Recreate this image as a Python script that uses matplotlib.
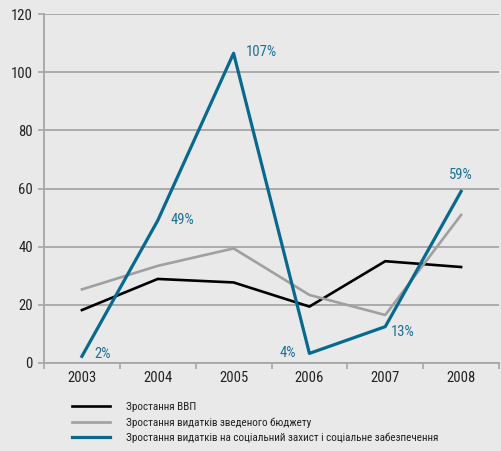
import matplotlib
matplotlib.use("Agg")
from matplotlib import pyplot as plt
import numpy as np

years = ["2003", "2004", "2005", "2006", "2007", "2008"]
gdp_growth = [18.2, 28.9, 27.7, 19.4, 35.0, 33.0]
budget_growth = [25.3, 33.4, 39.4, 23.4, 16.5, 50.9]
social_growth = [2.3, 49.0, 106.5, 3.3, 12.5, 59.0]
social_labels = ["2%", "49%", "107%", "4%", "13%", "59%"]

series_names = ["Зростання ВВП",
                "Зростання видатків зведеного бюджету",
                "Зростання видатків на соціальний захист і соціальне забезпечення"]

plt.rcParams['font.family'] = ['Roboto Condensed', 'DejaVu Sans']

BG = '#e9e9e9'
BLUE = '#08698f'
GRID = '#a6a6a6'

fig = plt.figure(figsize=(5.01, 4.51), dpi=100, facecolor=BG)
ax = fig.add_axes([44 / 501, 1 - 363 / 451, 455 / 501, 349 / 451])
ax.set_facecolor(BG)

x = np.arange(len(years))
ax.plot(x, gdp_growth, color='black', lw=1.9, label=series_names[0], zorder=3)
ax.plot(x, budget_growth, color='#a0a0a0', lw=1.9, label=series_names[1], zorder=3)
ax.plot(x, social_growth, color=BLUE, lw=2.3, label=series_names[2], zorder=4)

# percentage labels for the social spending line (offsets in points)
offsets = [(9, 2), (9, 0), (9, 1), (-21.5, 0), (4, -4), (-9, 11.5)]
for xi, yi, txt, off in zip(x, social_growth, social_labels, offsets):
    ax.annotate(txt, (xi, yi), xytext=off, textcoords='offset points',
                color='#1c6f95', fontsize=10.5, ha='left', va='center')

ax.set_xlim(-0.5, 5.5)
ax.set_ylim(0, 120)
ax.set_yticks(range(0, 121, 20))
ax.set_xticks(x)
ax.set_xticklabels(years)
ax.set_xticks(np.arange(-0.5, 6, 1), minor=True)
ax.tick_params(axis='x', which='major', length=0, pad=6, labelsize=10.5, labelcolor='#222222')
ax.tick_params(axis='x', which='minor', length=4, width=1.2, color=GRID, direction='out')
ax.tick_params(axis='y', length=4, width=1.2, color=GRID, labelsize=10.5, labelcolor='#222222', pad=4)
ax.grid(axis='y', color=GRID, lw=1.3, zorder=1)
ax.set_axisbelow(True)
for side in ['top', 'right']:
    ax.spines[side].set_visible(False)
for side in ['left', 'bottom']:
    ax.spines[side].set_color(GRID)
    ax.spines[side].set_linewidth(1.3)

fig.legend(loc='upper left', bbox_to_anchor=(72 / 501, 1 - 402 / 451), frameon=False,
           fontsize=8, handlelength=3.4, handletextpad=1.5, labelspacing=0.45,
           borderaxespad=0, borderpad=0, labelcolor='#222222')

fig.savefig("out.png", dpi=100, facecolor=BG)
